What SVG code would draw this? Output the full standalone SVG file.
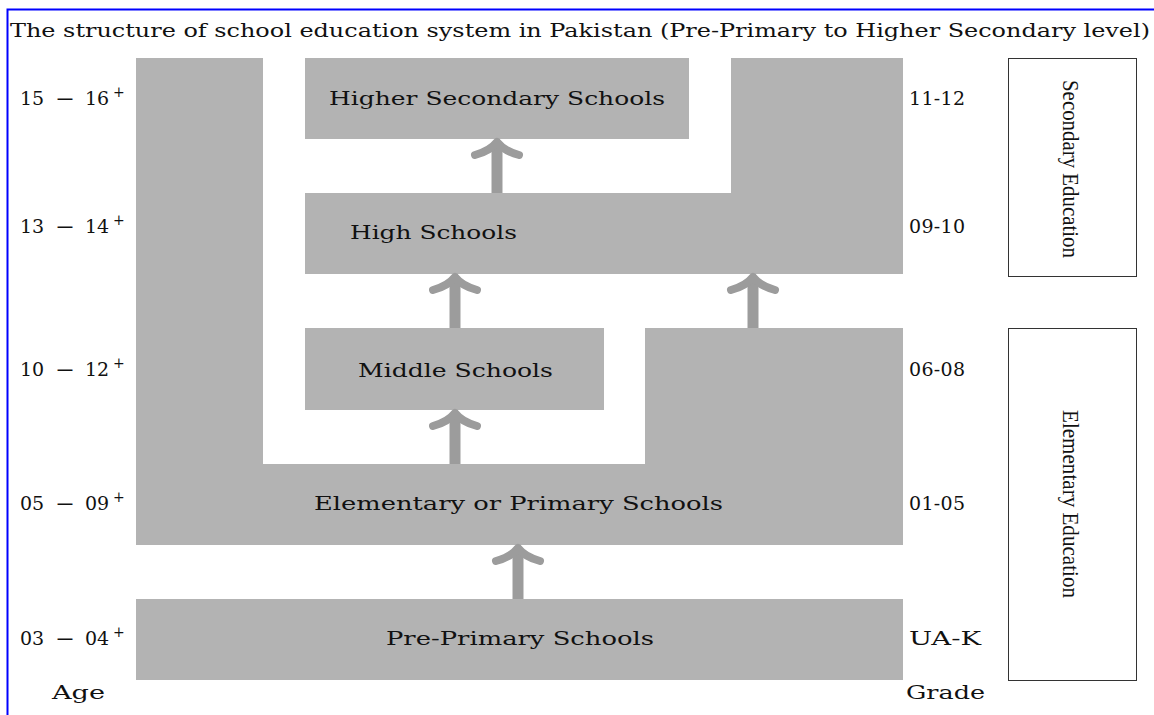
<svg xmlns="http://www.w3.org/2000/svg" width="1154" height="715" viewBox="0 0 1154 715">
<style>
.blk{fill:#b3b3b3;stroke:none}
.lbl{font-family:"DejaVu Serif","Liberation Serif",serif;font-size:19px;fill:#111;text-anchor:middle}
.ttl{font-family:"DejaVu Serif","Liberation Serif",serif;font-size:18px;fill:#111}
.side{font-family:"DejaVu Serif","Liberation Serif",serif;font-size:19px;fill:#111}
.sup{font-size:14px}
.rot{font-family:"Liberation Serif",serif;font-size:23px;fill:#111;text-anchor:middle}
.shaft{stroke:#9c9c9c;stroke-width:11;fill:none}
.head{stroke:#9c9c9c;stroke-width:8;fill:none;stroke-linecap:round;stroke-linejoin:round}
.frame{fill:#fff;stroke:#333;stroke-width:1}
</style>
<rect width="1154" height="715" fill="#fff"/>
<path d="M7.5 715 V9.5 H1154" fill="none" stroke="#0000ff" stroke-width="2"/>
<text x="10" y="37" class="ttl" textLength="1140" lengthAdjust="spacingAndGlyphs">The structure of school education system in Pakistan (Pre-Primary to Higher Secondary level)</text>

<g id="higher-secondary">
<rect class="blk" x="305" y="58" width="384" height="81"/>
<text class="lbl" x="497" y="105" textLength="336" lengthAdjust="spacingAndGlyphs">Higher Secondary Schools</text>
</g>
<g id="high">
<path class="blk" d="M305 193 H731 V58 H903 V274 H305 Z"/>
<text class="lbl" x="433.5" y="239" textLength="167" lengthAdjust="spacingAndGlyphs">High Schools</text>
</g>
<g id="middle">
<rect class="blk" x="305" y="328" width="299" height="82"/>
<text class="lbl" x="455.5" y="377" textLength="195" lengthAdjust="spacingAndGlyphs">Middle Schools</text>
</g>
<g id="elementary">
<path class="blk" d="M136 58 H263 V464 H645 V328 H903 V545 H136 Z"/>
<text class="lbl" x="518.5" y="510" textLength="409" lengthAdjust="spacingAndGlyphs">Elementary or Primary Schools</text>
</g>
<g id="pre-primary">
<rect class="blk" x="136" y="599" width="767" height="81"/>
<text class="lbl" x="520" y="645" textLength="268" lengthAdjust="spacingAndGlyphs">Pre-Primary Schools</text>
</g>

<g id="connectors">
<g><line class="shaft" x1="497" y1="193" x2="497" y2="143"/><path class="head" d="M475 155 Q490 151 497 142 Q504 151 519 155"/></g>
<g><line class="shaft" x1="455" y1="328" x2="455" y2="278"/><path class="head" d="M433 290 Q448 286 455 277 Q462 286 477 290"/></g>
<g><line class="shaft" x1="753" y1="328" x2="753" y2="278"/><path class="head" d="M731 290 Q746 286 753 277 Q760 286 775 290"/></g>
<g><line class="shaft" x1="455" y1="464" x2="455" y2="414"/><path class="head" d="M433 426 Q448 422 455 413 Q462 422 477 426"/></g>
<g><line class="shaft" x1="518" y1="599" x2="518" y2="549"/><path class="head" d="M496 561 Q511 557 518 548 Q525 557 540 561"/></g>
</g>

<g id="ages">
<text class="side" y="105"><tspan x="20">15</tspan><tspan x="55" textLength="20" lengthAdjust="spacingAndGlyphs">−</tspan><tspan x="85">16</tspan><tspan class="sup" x="113" dy="-8">+</tspan></text>
<text class="side" y="233"><tspan x="20">13</tspan><tspan x="55" textLength="20" lengthAdjust="spacingAndGlyphs">−</tspan><tspan x="85">14</tspan><tspan class="sup" x="113" dy="-8">+</tspan></text>
<text class="side" y="376"><tspan x="20">10</tspan><tspan x="55" textLength="20" lengthAdjust="spacingAndGlyphs">−</tspan><tspan x="85">12</tspan><tspan class="sup" x="113" dy="-8">+</tspan></text>
<text class="side" y="510"><tspan x="20">05</tspan><tspan x="55" textLength="20" lengthAdjust="spacingAndGlyphs">−</tspan><tspan x="85">09</tspan><tspan class="sup" x="113" dy="-8">+</tspan></text>
<text class="side" y="645"><tspan x="20">03</tspan><tspan x="55" textLength="20" lengthAdjust="spacingAndGlyphs">−</tspan><tspan x="85">04</tspan><tspan class="sup" x="113" dy="-8">+</tspan></text>
<text class="side" x="52" y="699" textLength="53" lengthAdjust="spacingAndGlyphs">Age</text>
</g>
<g id="grades">
<text class="side" x="909" y="105" textLength="56">11-12</text>
<text class="side" x="909" y="233" textLength="56">09-10</text>
<text class="side" x="909" y="376" textLength="56">06-08</text>
<text class="side" x="909" y="510" textLength="56">01-05</text>
<text class="side" x="909" y="645" textLength="72" lengthAdjust="spacingAndGlyphs">UA-K</text>
<text class="side" x="906" y="699" textLength="79" lengthAdjust="spacingAndGlyphs">Grade</text>
</g>

<g id="secondary-education">
<rect class="frame" x="1008.5" y="58.5" width="128" height="218"/>
<text class="rot" transform="translate(1063,169) rotate(90)" textLength="178" lengthAdjust="spacingAndGlyphs">Secondary Education</text>
</g>
<g id="elementary-education">
<rect class="frame" x="1008.5" y="328.5" width="128" height="352"/>
<text class="rot" transform="translate(1063,504) rotate(90)" textLength="188" lengthAdjust="spacingAndGlyphs">Elementary Education</text>
</g>
</svg>
